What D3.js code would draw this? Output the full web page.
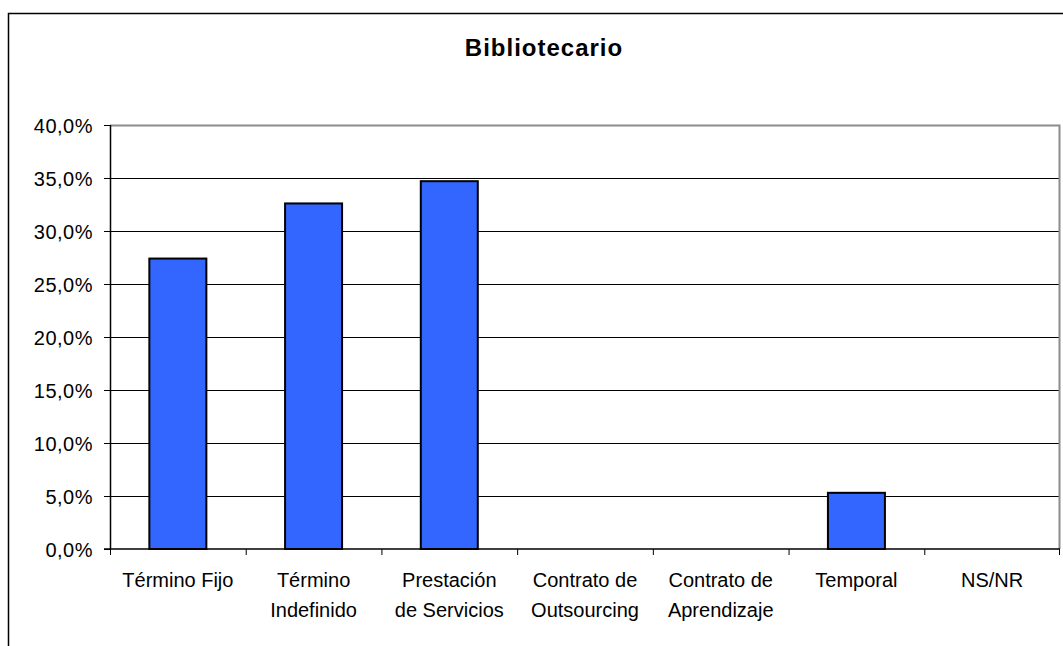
<!DOCTYPE html>
<html>
<head>
<meta charset="utf-8">
<script src="https://cdn.jsdelivr.net/npm/d3@7"></script>
<style>
    body { margin: 0; background: #fff; }
    svg { display: block; font-family: "Liberation Sans", Arial, sans-serif; }
    .axis text { font-size: 20px; fill: #000; letter-spacing: 0.5px; }
    .axis path { display: none; }
</style>
</head>
<body>
<svg width="1063" height="646"></svg>
<script>
    var categories = ["Término Fijo", "Término Indefinido", "Prestación de Servicios",
        "Contrato de Outsourcing", "Contrato de Aprendizaje", "Temporal", "NS/NR"];
    var labelLines = [["Término Fijo"], ["Término", "Indefinido"], ["Prestación", "de Servicios"],
        ["Contrato de", "Outsourcing"], ["Contrato de", "Aprendizaje"], ["Temporal"], ["NS/NR"]];
    var values = [27.4, 32.6, 34.7, 0, 0, 5.3, 0];
    var yTicks = [0, 5, 10, 15, 20, 25, 30, 35, 40];

    var margin = {top: 125, left: 110},
        width = 950,
        height = 424,
        svg = d3.select("svg");

    // outer chart frame (runs past the window on right and bottom)
    svg.append("rect")
        .attr("x", 8.5).attr("y", 13.5)
        .attr("width", 1200).attr("height", 800)
        .attr("fill", "none")
        .attr("stroke", "#000")
        .attr("stroke-width", 1.5);

    svg.append("text")
        .attr("x", 544).attr("y", 56)
        .attr("text-anchor", "middle")
        .style("font-size", "24px")
        .style("font-weight", "bold")
        .style("letter-spacing", "1px")
        .text("Bibliotecario");

    var x = d3.scaleBand().domain(categories).range([0, width]).paddingInner(0).paddingOuter(0),
        y = d3.scaleLinear().domain([0, 40]).range([height, 0]);

    var g = svg.append("g")
        .attr("transform", "translate(" + margin.left + "," + margin.top + ")");

    // gridlines
    g.selectAll(".grid")
        .data(yTicks.slice(1, -1))
        .enter().append("line")
        .attr("class", "grid")
        .attr("x1", 0).attr("x2", width)
        .attr("y1", function(d) { return y(d) + 0.5; })
        .attr("y2", function(d) { return y(d) + 0.5; })
        .attr("stroke", "#000")
        .attr("stroke-width", 1);

    // plot area border top/right
    g.append("path")
        .attr("d", "M0," + (y(40) + 0.5) + "H" + (width - 0.5) + "V" + height)
        .attr("fill", "none")
        .attr("stroke", "#8c8c8c")
        .attr("stroke-width", 2);

    var bw = x.bandwidth() * 0.42;
    g.selectAll(".bar")
        .data(values)
        .enter().append("rect")
        .attr("class", "bar")
        .filter(function(d) { return d > 0; })
        .attr("x", function(d) { return x(categories[values.indexOf(d)]) + (x.bandwidth() - bw) / 2; })
        .attr("y", function(d) { return y(d); })
        .attr("width", bw)
        .attr("height", function(d) { return height - y(d); })
        .attr("fill", "#3366ff")
        .attr("stroke", "#000")
        .attr("stroke-width", 2);

    // y axis
    var yAxis = g.append("g")
        .attr("class", "axis axis--y")
        .call(d3.axisLeft(y).tickValues(yTicks).tickSize(6).tickPadding(11)
            .tickFormat(function(d) { return d.toFixed(1).replace(".", ",") + "%"; }));
    yAxis.selectAll("line").attr("stroke", "#000");
    yAxis.selectAll("text").attr("dy", "0.36em");
    g.append("line")
        .attr("x1", 0.5).attr("x2", 0.5)
        .attr("y1", 0).attr("y2", height)
        .attr("stroke", "#000").attr("stroke-width", 1.5);

    // x axis baseline and boundary ticks
    g.append("line")
        .attr("x1", -6).attr("x2", width)
        .attr("y1", height).attr("y2", height)
        .attr("stroke", "#000").attr("stroke-width", 1.5);
    g.selectAll(".xtick")
        .data(d3.range(categories.length + 1))
        .enter().append("line")
        .attr("class", "xtick")
        .attr("x1", function(i) { return i < categories.length ? x(categories[i]) + 0.5 : width - 0.5; })
        .attr("x2", function(i) { return i < categories.length ? x(categories[i]) + 0.5 : width - 0.5; })
        .attr("y1", height).attr("y2", height + 6)
        .attr("stroke", "#000").attr("stroke-width", 1);

    var xl = g.selectAll(".xlabel")
        .data(categories)
        .enter().append("text")
        .attr("class", "xlabel")
        .attr("text-anchor", "middle")
        .attr("transform", function(d) { return "translate(" + (x(d) + x.bandwidth() / 2) + "," + (height + 38) + ")"; })
        .style("font-size", "20px");
    xl.selectAll("tspan")
        .data(function(d, i) { return labelLines[i]; })
        .enter().append("tspan")
        .attr("x", 0)
        .attr("y", function(d, j) { return j * 30; })
        .text(function(d) { return d; });
</script>
</body>
</html>
